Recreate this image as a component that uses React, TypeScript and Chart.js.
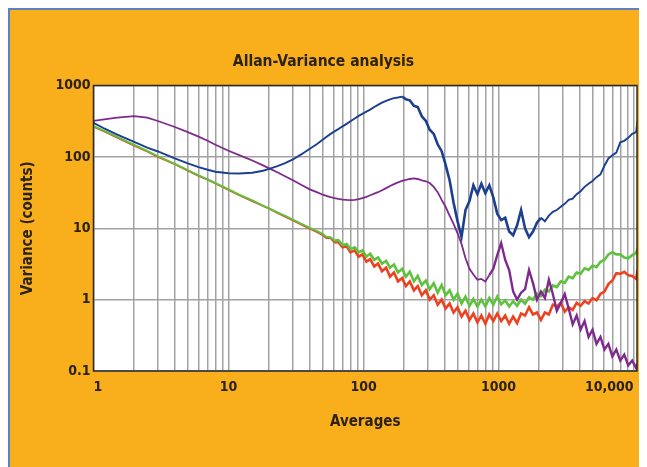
import React, { useEffect, useRef } from 'react';
import { Chart, registerables } from 'chart.js';

Chart.register(...registerables);

// ---- data ----
const averages = [
  1, 1.2, 1.5, 2, 2.5, 3, 4, 5, 6, 7, 8, 10, 12, 15, 18, 20, 23, 26, 30, 35, 40, 45,
  50, 53, 57, 61, 65, 70, 75, 80, 86, 92, 98, 105, 112, 120, 128, 137, 147, 157, 168, 180,
  193, 206, 220, 236, 252, 270, 289, 309, 331, 354, 379, 405, 434, 464, 497, 532, 569, 609,
  651, 697, 746, 798, 854, 914, 978, 1046, 1120, 1198, 1282, 1372, 1468, 1571, 1681, 1799,
  1925, 2060, 2204, 2358, 2523, 2700, 2889, 3091, 3308, 3539, 3787, 4052, 4336, 4640, 4964,
  5312, 5684, 6082, 6507, 6963, 7450, 7972, 8530, 9127, 9766, 10450, 10700,
];

const blueVariance = [
  300, 250, 205, 162, 135, 119, 95, 81, 72, 66, 62, 59, 58.5, 60, 64, 68, 74, 81, 92, 110, 130, 150,
  175, 190, 210, 228, 245, 268, 290, 315, 345, 375, 400, 430, 460, 500, 535, 575, 610, 640, 665, 680,
  700, 640, 620, 520, 500, 370, 320, 240, 210, 150, 120, 78, 47, 23, 12.5, 7.6, 18, 24,
  40, 30, 42, 31, 40, 27, 16, 13, 14, 9, 8, 11, 18, 10, 7.5, 9,
  12, 14, 12.5, 15, 17, 18, 20, 22, 25, 26, 30, 33, 38, 42, 46,
  52, 57, 75, 95, 105, 115, 160, 168, 185, 210, 222, 320,
];

const purpleVariance = [
  320, 335, 355, 372, 355, 318, 262, 222, 192, 168, 148, 122, 106, 89, 76, 69, 61, 54, 47, 40, 35, 32,
  29.5, 28.5, 27.3, 26.4, 25.8, 25.2, 24.9, 24.8, 25, 25.5, 26.4, 27.5, 29, 30.5, 32, 34, 36.5, 39, 41.5, 44,
  46, 47.5, 49, 50, 49, 47, 45.5, 43, 38, 32, 25, 20, 15, 11.5, 8.5, 6.0, 3.8, 2.7,
  2.25, 1.9, 1.95, 1.8, 2.2, 2.7, 4.2, 6.2, 3.6, 2.6, 1.3, 1.0, 1.25, 1.4, 2.6, 1.7,
  1.0, 1.3, 1.05, 1.9, 1.2, 0.7, 0.9, 1.2, 0.75, 0.45, 0.6, 0.38, 0.5, 0.3, 0.38,
  0.24, 0.3, 0.2, 0.24, 0.16, 0.2, 0.14, 0.17, 0.12, 0.14, 0.11, 0.13,
];

const greenVariance = [
  270, 232, 190, 147, 121, 102, 80, 65, 55, 48.5, 43, 35, 29.5, 24.5, 20.8, 19.0, 16.7, 15.0, 13.2, 11.4, 10.1, 9.2,
  8.3, 7.6, 7.5, 6.7, 6.8, 5.8, 6.0, 5.1, 5.4, 4.6, 4.9, 4.0, 4.4, 3.6, 3.9, 3.2, 3.5, 2.8, 3.1, 2.4,
  2.7, 2.1, 2.45, 1.8, 2.15, 1.6, 1.85, 1.4, 1.7, 1.25, 1.6, 1.15, 1.35, 1.0, 1.22, 0.88, 1.1, 0.82,
  1.02, 0.8, 1.0, 0.8, 1.05, 0.85, 1.1, 0.86, 0.98, 0.8, 0.95, 0.82, 1.0, 0.88, 1.08, 1.0,
  1.22, 1.12, 1.38, 1.3, 1.58, 1.5, 1.8, 1.72, 2.1, 2.0, 2.4, 2.3, 2.75, 2.6, 3.0,
  2.85, 3.4, 3.6, 4.3, 4.6, 4.3, 4.3, 3.9, 3.8, 4.2, 4.5, 5.2,
];

const redVariance = [
  265, 228, 186, 144, 119, 100, 79, 64, 54, 48, 42.5, 34.5, 29, 24, 20.5, 18.8, 16.4, 14.7, 12.9, 11.1, 9.9, 8.9,
  8.0, 7.3, 7.3, 6.3, 6.4, 5.4, 5.6, 4.6, 4.9, 4.0, 4.3, 3.4, 3.7, 2.9, 3.2, 2.5, 2.8, 2.1, 2.4, 1.8,
  2.0, 1.55, 1.8, 1.35, 1.55, 1.15, 1.35, 1.0, 1.15, 0.85, 1.0, 0.75, 0.88, 0.66, 0.78, 0.58, 0.7, 0.52,
  0.64, 0.48, 0.6, 0.46, 0.62, 0.5, 0.64, 0.5, 0.6, 0.46, 0.58, 0.47, 0.64, 0.6, 0.78, 0.62,
  0.66, 0.52, 0.66, 0.62, 0.85, 0.8, 0.9, 0.68, 0.78, 0.72, 0.9, 0.82, 0.95, 0.88, 1.05,
  0.98, 1.2, 1.3, 1.65, 1.85, 2.35, 2.3, 2.45, 2.2, 2.15, 1.95, 2.6,
];

// averages from which each curve turns noisy (used only to thicken the stroke)
const blueNoiseFrom = 190;
const blueNoiseTo = 2000;
const purpleNoiseFrom = 850;
const greenNoiseFrom = 60;
const redNoiseFrom = 60;

const xTickValues = [
  1, 2, 3, 4, 5, 6, 7, 8, 9,
  10, 20, 30, 40, 50, 60, 70, 80, 90,
  100, 200, 300, 400, 500, 600, 700, 800, 900,
  1000, 2000, 3000, 4000, 5000, 6000, 7000, 8000, 9000,
  10000,
];
const xLabelledValues = [1, 10, 100, 1000, 10000];
const xTickLabels = ['1', '10', '100', '1000', '10,000'];
const yTickValues = [0.1, 1, 10, 100, 1000];
const yTickLabels = ['0.1', '1', '10', '100', '1000'];

const X_MIN = 1;
const X_MAX = 10600;
const Y_MIN = 0.1;
const Y_MAX = 1000;

const FONT = "'Liberation Sans Narrow', 'Arial Narrow', 'DejaVu Sans Condensed', sans-serif";
const TEXT = '#2b2212';
const GRID = '#a2a2a2';

const toPoints = (ys: number[]) => averages.map((x, i) => ({ x, y: ys[i] }));

const plotFrame = {
  id: 'plotFrame',
  beforeDraw(chart: any) {
    const { ctx, chartArea: a } = chart;
    ctx.save();
    ctx.fillStyle = '#ffffff';
    ctx.fillRect(a.left, a.top, a.right - a.left, a.bottom - a.top);
    ctx.restore();
  },
  afterDraw(chart: any) {
    const { ctx, chartArea: a } = chart;
    ctx.save();
    ctx.strokeStyle = '#2a2a2a';
    ctx.lineWidth = 1.5;
    ctx.strokeRect(a.left, a.top, a.right - a.left, a.bottom - a.top);
    ctx.restore();
  },
};

export default function App() {
  const ref = useRef<HTMLCanvasElement | null>(null);

  useEffect(() => {
    if (!ref.current) return;
    const line = (data: number[], color: string, width: number, noisyWidth: number, from: number, to: number) => ({
      data: toPoints(data),
      borderColor: color,
      backgroundColor: color,
      borderWidth: width,
      pointRadius: 0,
      tension: 0,
      fill: false,
      segment: {
        borderWidth: (c: any) => {
          const x = c.p0.parsed.x;
          return x >= from && x < to ? noisyWidth : width;
        },
      },
    });
    const chart = new Chart(ref.current, {
      type: 'line',
      data: {
        datasets: [
          { label: 'Blue', ...line(blueVariance, '#1c3f8f', 1.9, 2.6, blueNoiseFrom, blueNoiseTo) },
          { label: 'Purple', ...line(purpleVariance, '#7e2a8c', 1.8, 2.4, purpleNoiseFrom, Infinity) },
          { label: 'Green', ...line(greenVariance, '#5fc23c', 1.9, 2.6, greenNoiseFrom, Infinity) },
          { label: 'Red', ...line(redVariance, '#ec4220', 1.9, 2.6, redNoiseFrom, Infinity) },
        ],
      },
      options: {
        responsive: false,
        animation: false,
        events: [],
        layout: { padding: { left: 0, right: 8, top: 0, bottom: 0 } },
        plugins: {
          legend: { display: false },
          tooltip: { enabled: false },
          title: {
            display: true,
            text: 'Allan-Variance analysis',
            color: TEXT,
            font: { family: FONT, size: 15.5, weight: 'bold' },
            padding: { top: 42.7, bottom: 14.2 },
          },
        },
        scales: {
          x: {
            type: 'logarithmic',
            min: X_MIN,
            max: X_MAX,
            afterBuildTicks: (s: any) => {
              s.ticks = xTickValues.map((v) => ({ value: v }));
            },
            afterFit: (s: any) => {
              s.height = 96;
              s.paddingLeft = 0;
              s.paddingRight = 0;
            },
            ticks: {
              autoSkip: false,
              maxRotation: 0,
              minRotation: 0,
              align: 'inner',
              padding: 7.6,
              color: TEXT,
              font: { family: FONT, size: 14, weight: 'bold' },
              callback: (v: any) => {
                const i = xLabelledValues.indexOf(Number(v));
                return i >= 0 ? xTickLabels[i] : '';
              },
            },
            grid: { color: GRID, lineWidth: 1.5, drawTicks: false },
            border: { display: false },
            title: {
              display: true,
              text: 'Averages',
              color: TEXT,
              font: { family: FONT, size: 15, weight: 'bold' },
              padding: { top: 0, bottom: 36 },
            },
          },
          y: {
            type: 'logarithmic',
            min: Y_MIN,
            max: Y_MAX,
            afterBuildTicks: (s: any) => {
              s.ticks = yTickValues.map((v) => ({ value: v }));
            },
            afterFit: (s: any) => {
              s.width = 83.5;
              s.paddingTop = 0;
              s.paddingBottom = 0;
            },
            ticks: {
              autoSkip: false,
              padding: 3,
              color: TEXT,
              font: { family: FONT, size: 14, weight: 'bold' },
              callback: (v: any) => {
                const i = yTickValues.indexOf(Number(v));
                return i >= 0 ? yTickLabels[i] : '';
              },
            },
            grid: { color: GRID, lineWidth: 1.5, drawTicks: false },
            border: { display: false },
            title: {
              display: true,
              text: 'Variance (counts)',
              color: TEXT,
              font: { family: FONT, size: 15, weight: 'bold' },
              padding: { top: 9, bottom: 0 },
            },
          },
        },
      } as any,
      plugins: [plotFrame],
    });
    return () => chart.destroy();
  }, []);

  return (
    <div
      style={{
        width: 639,
        height: 459,
        boxSizing: 'border-box',
        background: '#F9AE1B',
        borderTop: '2px solid #5f80c2',
        borderLeft: '2px solid #5f80c2',
        borderRight: '2px solid #8096c6',
      }}
    >
      <canvas ref={ref} width={635} height={457} style={{ display: 'block' }} />
    </div>
  );
}
